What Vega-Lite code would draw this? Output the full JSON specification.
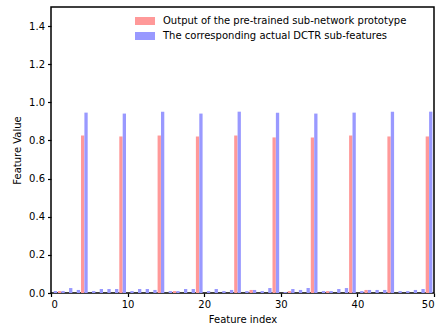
{
  "$schema": "https://vega.github.io/schema/vega-lite/v6.json",
  "autosize": "none",
  "width": 383,
  "height": 286,
  "padding": {"left": 51, "top": 7, "right": 6, "bottom": 36},
  "background": "white",
  "config": {
    "font": "DejaVu Sans",
    "view": {"stroke": "black", "strokeWidth": 1.5},
    "axis": {
      "grid": false, "domain": false, "tickColor": "black", "tickWidth": 1.2, "tickSize": 3.5,
      "labelFont": "DejaVu Sans", "labelFontSize": 10, "labelColor": "black", "labelPadding": 3,
      "titleFont": "DejaVu Sans", "titleFontSize": 10, "titleFontWeight": "normal", "titleColor": "black"
    }
  },
  "datasets": {
    "bars": [
      {"index": 0, "series": "actual", "value": 0.010},
      {"index": 1, "series": "actual", "value": 0.010},
      {"index": 1, "series": "proto", "value": 0.010},
      {"index": 2, "series": "actual", "value": 0.026},
      {"index": 3, "series": "actual", "value": 0.016},
      {"index": 4, "series": "proto", "value": 0.826},
      {"index": 4, "series": "actual", "value": 0.946},
      {"index": 5, "series": "actual", "value": 0.010},
      {"index": 6, "series": "actual", "value": 0.021},
      {"index": 7, "series": "actual", "value": 0.021},
      {"index": 8, "series": "actual", "value": 0.021},
      {"index": 9, "series": "proto", "value": 0.821},
      {"index": 9, "series": "actual", "value": 0.941},
      {"index": 10, "series": "actual", "value": 0.010},
      {"index": 11, "series": "actual", "value": 0.021},
      {"index": 12, "series": "actual", "value": 0.021},
      {"index": 13, "series": "actual", "value": 0.016},
      {"index": 14, "series": "proto", "value": 0.826},
      {"index": 14, "series": "actual", "value": 0.951},
      {"index": 15, "series": "actual", "value": 0.010},
      {"index": 16, "series": "actual", "value": 0.010},
      {"index": 16, "series": "proto", "value": 0.010},
      {"index": 17, "series": "actual", "value": 0.021},
      {"index": 18, "series": "actual", "value": 0.021},
      {"index": 19, "series": "proto", "value": 0.821},
      {"index": 19, "series": "actual", "value": 0.941},
      {"index": 20, "series": "actual", "value": 0.010},
      {"index": 21, "series": "actual", "value": 0.021},
      {"index": 22, "series": "actual", "value": 0.010},
      {"index": 23, "series": "actual", "value": 0.016},
      {"index": 24, "series": "proto", "value": 0.826},
      {"index": 24, "series": "actual", "value": 0.951},
      {"index": 25, "series": "actual", "value": 0.010},
      {"index": 26, "series": "actual", "value": 0.016},
      {"index": 26, "series": "proto", "value": 0.016},
      {"index": 27, "series": "actual", "value": 0.010},
      {"index": 28, "series": "actual", "value": 0.026},
      {"index": 29, "series": "proto", "value": 0.816},
      {"index": 29, "series": "actual", "value": 0.946},
      {"index": 30, "series": "actual", "value": 0.005},
      {"index": 31, "series": "actual", "value": 0.021},
      {"index": 31, "series": "proto", "value": 0.010},
      {"index": 32, "series": "actual", "value": 0.016},
      {"index": 33, "series": "actual", "value": 0.026},
      {"index": 34, "series": "proto", "value": 0.816},
      {"index": 34, "series": "actual", "value": 0.941},
      {"index": 35, "series": "actual", "value": 0.010},
      {"index": 36, "series": "actual", "value": 0.010},
      {"index": 36, "series": "proto", "value": 0.010},
      {"index": 37, "series": "actual", "value": 0.021},
      {"index": 38, "series": "actual", "value": 0.026},
      {"index": 39, "series": "proto", "value": 0.826},
      {"index": 39, "series": "actual", "value": 0.946},
      {"index": 40, "series": "actual", "value": 0.010},
      {"index": 41, "series": "actual", "value": 0.016},
      {"index": 41, "series": "proto", "value": 0.016},
      {"index": 42, "series": "actual", "value": 0.016},
      {"index": 43, "series": "actual", "value": 0.016},
      {"index": 44, "series": "proto", "value": 0.821},
      {"index": 44, "series": "actual", "value": 0.951},
      {"index": 45, "series": "actual", "value": 0.010},
      {"index": 46, "series": "actual", "value": 0.010},
      {"index": 47, "series": "actual", "value": 0.016},
      {"index": 48, "series": "actual", "value": 0.021},
      {"index": 49, "series": "proto", "value": 0.821},
      {"index": 49, "series": "actual", "value": 0.951}
    ]
  },
  "data": {"name": "bars"},
  "encoding": {
    "x": {
      "field": "index", "type": "quantitative", "title": "Feature index",
      "scale": {"domain": [0, 50], "nice": false, "zero": false, "padding": 0},
      "axis": {"values": [0, 10, 20, 30, 40, 50], "format": "d", "titlePadding": 5}
    },
    "y": {
      "field": "value", "type": "quantitative", "title": "Feature Value",
      "scale": {"domain": [0, 1.5], "nice": false, "padding": 0},
      "axis": {"values": [0, 0.2, 0.4, 0.6, 0.8, 1.0, 1.2, 1.4], "format": ".1f", "titlePadding": 6}
    },
    "color": {
      "field": "series", "type": "nominal", "title": null,
      "scale": {"domain": ["proto", "actual"], "range": ["#ff9999", "#9999ff"]},
      "legend": {
        "orient": "none", "legendX": 78, "legendY": 3,
        "labelExpr": "datum.value == 'proto' ? 'Output of the pre-trained sub-network prototype' : 'The corresponding actual DCTR sub-features'",
        "symbolType": "M-1,-0.8H3V0.8H-1Z", "symbolSize": 100, "symbolStrokeWidth": 0, "symbolOpacity": 1,
        "labelFont": "DejaVu Sans", "labelFontSize": 10, "labelColor": "black", "labelOffset": 18, "labelLimit": 400,
        "rowPadding": 5, "padding": 6
      }
    }
  },
  "layer": [
    {
      "transform": [{"filter": "datum.series == 'proto'"}],
      "mark": {"type": "bar", "size": 3.3, "xOffset": 1.0}
    },
    {
      "transform": [{"filter": "datum.series == 'actual'"}],
      "mark": {"type": "bar", "size": 3.3, "xOffset": 4.4}
    }
  ]
}
